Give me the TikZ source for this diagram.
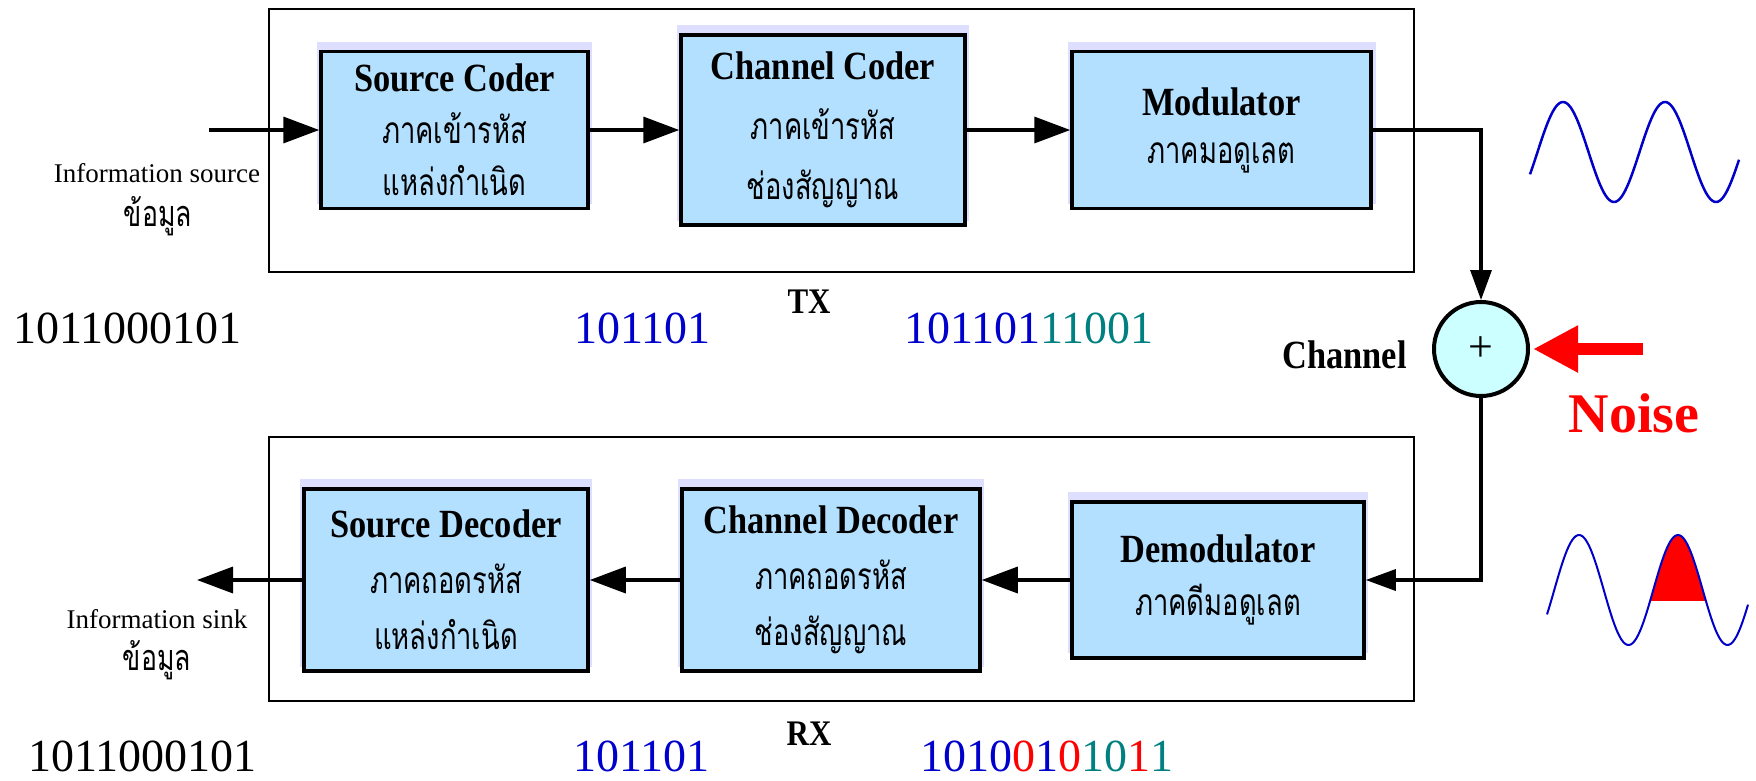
\documentclass[tikz,border=0pt]{standalone}
\usepackage{fontspec}
\setmainfont{Liberation Serif}
\newfontfamily\condfont[FakeStretch=0.86]{Liberation Serif}
\newfontfamily\thaifont[Script=Thai,FakeStretch=0.74]{Loma}
\usetikzlibrary{arrows.meta,positioning,shadows}
\definecolor{BoxFill}{RGB}{179,224,255}
\definecolor{BoxShade}{RGB}{222,222,255}
\definecolor{AdderFill}{RGB}{204,255,255}
\definecolor{BitBlue}{RGB}{0,0,204}
\definecolor{BitTeal}{RGB}{0,128,128}
\definecolor{WaveBlue}{RGB}{0,0,200}
\newcommand{\blocktitle}[1]{{\condfont\bfseries\fontsize{40}{40}\selectfont #1}}
\tikzset{
  blockbox/.style={draw=black, line width=3.5pt, fill=BoxFill, align=center, inner sep=0pt,
                drop shadow={shadow xshift=0pt, shadow yshift=7pt, shadow scale=1.03, fill=BoxShade, opacity=1},
                font=\thaifont\fontsize{37}{#1}\selectfont},
  blockbox/.default=55,
  groupframe/.style={draw=black, line width=1.8pt, inner sep=0pt},
  adder/.style={circle, draw=black, line width=4pt, fill=AdderFill, minimum size=94pt,
                inner sep=0pt, font=\fontsize{44}{44}\selectfont},
  % arrows between the blocks, and the thinner ones through the channel
  flow/.style={line width=3.5pt, -{Triangle[length=36pt,width=26pt]}},
  chanflow/.style={line width=3.3pt, -{Triangle[length=30pt,width=21pt]}},
  noisearrow/.style={red, line width=12pt, -{Triangle[length=45pt,width=44pt]}, shorten >=3pt},
  lbl/.style={anchor=base, inner sep=0pt, font=\fontsize{27}{27}\selectfont},
  thailbl/.style={anchor=base, inner sep=0pt, font=\thaifont\fontsize{36}{36}\selectfont},
  bits/.style={anchor=base west, inner sep=0pt, font=\fontsize{46}{46}\selectfont},
  sidetag/.style={anchor=base, inner sep=0pt, font=\condfont\bfseries\fontsize{36}{36}\selectfont},
  wave/.style={WaveBlue, line width=2.5pt, line join=round},
}

\begin{document}
\begin{tikzpicture}[x=1pt, y=-1pt]
  \useasboundingbox (0,0) rectangle (1756,780);

  \node[groupframe, minimum width=1145pt, minimum height=263pt] (txframe) at (841.5,140.5) {};
  \node[groupframe, minimum width=1145pt, minimum height=264pt] (rxframe) at (841.5,569) {};

  \node[blockbox=52, minimum width=267pt, minimum height=157pt] (srccoder)   at (454.5,130) {\blocktitle{Source Coder}\\ภาคเข้ารหัส\\แหล่งกำเนิด};
  \node[blockbox=60, minimum width=284pt, minimum height=190pt] (chcoder)    at (823,130)   {\blocktitle{Channel Coder}\\ภาคเข้ารหัส\\ช่องสัญญาณ};
  \node[blockbox=48, minimum width=299pt, minimum height=157pt] (modulator)  at (1221.5,130) {\blocktitle{Modulator}\\ภาคมอดูเลต};

  \node[blockbox=56, minimum width=284pt, minimum height=182pt] (srcdecoder) at (446,580)   {\blocktitle{Source Decoder}\\ภาคถอดรหัส\\แหล่งกำเนิด};
  \node[blockbox=56, minimum width=298pt, minimum height=182pt] (chdecoder)  at (831,580)   {\blocktitle{Channel Decoder}\\ภาคถอดรหัส\\ช่องสัญญาณ};
  \node[blockbox=53, minimum width=292pt, minimum height=156pt] (demod)      at (1218,580)  {\blocktitle{Demodulator}\\ภาคดีมอดูเลต};

  \node[adder] (adder) at (1481,349) {+};
  \node[anchor=base east, inner sep=0pt, font=\condfont\bfseries\fontsize{40}{40}\selectfont] (chlabel) at (1407,368) {Channel};
  \node[anchor=base, inner sep=0pt, text=red, font=\bfseries\fontsize{56}{56}\selectfont] (noiselabel) at (1634,432) {Noise};

  \coordinate (srcin)     at (209,130);
  \coordinate (sinkout)   at (197,580);
  \coordinate (noisetail) at (1643,349);

  \draw[flow] (srcin) -- (srccoder.west);
  \draw[flow] (srccoder.east) -- (chcoder.west);
  \draw[flow] (chcoder.east) -- (modulator.west);
  \draw[chanflow] (modulator.east) -| (adder.north);
  \draw[chanflow] (adder.south) |- (demod.east);
  \draw[flow] (demod.west) -- (chdecoder.east);
  \draw[flow] (chdecoder.west) -- (srcdecoder.east);
  \draw[flow] (srcdecoder.west) -- (sinkout);
  \draw[noisearrow] (noisetail) -- (adder);

  \node[lbl]     (srcname)  at (157,182) {Information source};
  \node[thailbl] (srcdata)  at (158,226) {ข้อมูล};
  \node[lbl]     (sinkname) at (157,628) {Information sink};
  \node[thailbl] (sinkdata) at (157,670) {ข้อมูล};

  \node[sidetag] (txlabel) at (809,313) {TX};
  \node[sidetag] (rxlabel) at (809,745) {RX};

  \node[bits] (txbits0) at (13,343)  {1011000101};
  \node[bits, text=BitBlue] (txbits1) at (574,343) {101101};
  \node[bits] (txbits2) at (904,343) {\textcolor{BitBlue}{101101}\textcolor{BitTeal}{11001}};
  \node[bits] (rxbits0) at (28,771)  {1011000101};
  \node[bits, text=BitBlue] (rxbits1) at (573,771) {101101};
  \node[bits] (rxbits2) at (920,771) {\textcolor{BitBlue}{1010}\textcolor{red}{0}\textcolor{BitBlue}{1}\textcolor{red}{0}\textcolor{BitTeal}{10}\textcolor{red}{1}\textcolor{BitTeal}{1}};

  % transmitted carrier, and the received one with the noise hit
  \draw[wave] plot[domain=1530:1739, samples=120] (\x,{152-50*cos(3.5294*(\x-1563))});
  \fill[red] plot[domain=1650.1:1705.9, samples=40] (\x,{590-55*cos(3.6364*(\x-1579))}) -- cycle;
  \draw[wave, line width=2pt] plot[domain=1547:1748, samples=120] (\x,{590-55*cos(3.6364*(\x-1579))});

\end{tikzpicture}
\end{document}
